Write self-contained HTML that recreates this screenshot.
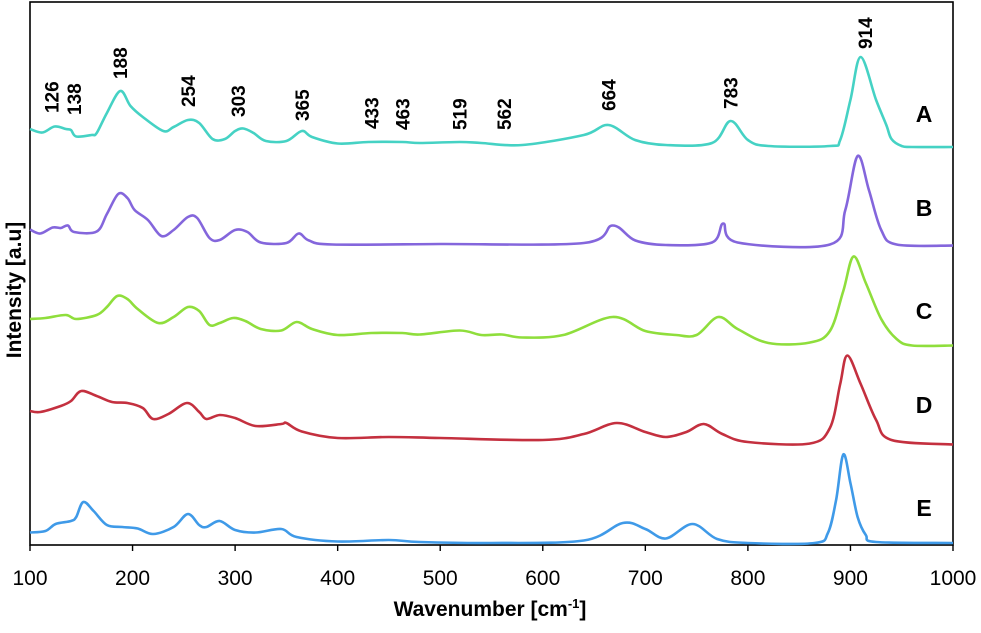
<!DOCTYPE html>
<html><head><meta charset="utf-8"><style>
html,body{margin:0;padding:0;background:#fff;}
svg{display:block;font-family:"Liberation Sans",sans-serif;}
</style></head><body>
<svg id="chart" width="981" height="633" viewBox="0 0 981 633"></svg>
<script>
const xTicks = [100,200,300,400,500,600,700,800,900,1000];
const seriesNames = ["A","B","C","D","E"];
const seriesColors = ["#45d2c4","#8466dc","#8fde3c","#c4303f","#3f9ae8"];
const peakLabels = [126,138,188,254,303,365,433,463,519,562,664,783,914];
const peakLabelHeights = [432,430,466,438,428,424,416,415,415,415,434,436,496];
const waveA = [100,112,124,135,140,145,160,165,175,188,198,210,230,240,254,265,278,290,300,308,318,330,350,365,375,400,430,463,480,519,540,580,640,664,690,720,765,783,800,820,880,890,900,910,925,935,940,950,960,1000];
const intA = [416,412.5,418.5,416,415,408.5,410,412,432,454,439,428,414,418,425,422,406,406,414,416.5,412,404,404,414,408,401.5,403,403,402,403,402,400,410,420,405,400,402,424,405,399,399,405,445,488,445,420,406,399,398,398];
const waveB = [100,110,122,130,137,143,165,175,186,195,202,215,228,240,254,263,275,285,300,312,325,350,362,372,395,500,640,668,690,720,765,776,790,880,895,907,918,930,945,1000];
const intB = [315.5,311.5,317.5,317,319.5,313,313.5,331,351,347,335,325,309,315,328,327,307,305,315,313,302.5,302,311.5,304.5,300.5,301,302,319.5,304.6,300,302.5,321.5,302.5,300.5,335,389,355,315,300.5,299.4];
const waveC = [100,115,135,145,165,175,185,195,205,225,240,254,265,275,285,298,310,325,345,360,375,400,433,463,480,519,540,560,580,620,668,700,730,750,771,790,820,860,880,893,903,915,930,945,960,1000];
const intC = [226,227,230,226,230,238,249,246,236,222,228,238,234,220,222,227,224,216,214.5,223,216,210,212,212,210.5,214.5,210,210.5,207.5,210,228,214,210,210,228,216,202,202.4,214,254,288.5,262,226,206,199.5,199.5];
const waveD = [100,110,130,140,150,165,180,195,210,220,235,253,265,272,285,300,320,345,350,365,400,450,500,600,640,672,700,720,740,757,775,800,860,880,890,897,910,925,940,1000];
const intD = [134,133,139,144,154,149,143,142,137,126,131,142,133,126,130,127,119,121,122,113.5,107,108,107,105,111,122,113,108,113,121,111,103,101.4,117,161,189.5,161,125,105,100.5];
const waveE = [100,115,125,140,145,152,162,175,190,205,220,240,254,265,272,285,300,320,345,360,400,450,480,550,640,678,700,720,746,770,800,865,878,886,893,900,907,915,925,1000];
const intE = [12.5,14,21,24,28,43,34,20,18,16.5,11,18,31,20,18,24,15,12.5,16,8,3.5,5,3,2,4.5,22,16,6.5,21,6,2,2,12,45,90.5,62,28,10,3,2];
const letterOffsets = [423,329,226,132,29];

const svg = document.getElementById('chart');
const NS = 'http://www.w3.org/2000/svg';
const L=30,R=953,T=2,B=545;
const xs = v => L + (v-100)/900*(R-L);
const ys = v => B - v;
function mk(tag, attrs, parent){const e=document.createElementNS(NS,tag);for(const k in attrs)e.setAttribute(k,attrs[k]);(parent||svg).appendChild(e);return e;}

const frame = mk('rect',{x:L,y:T,width:R-L,height:B-T,fill:'none',stroke:'#000','stroke-width':1.6});



xTicks.forEach(t=>{
  const tk=mk('line',{x1:xs(t),x2:xs(t),y1:B,y2:B+6,stroke:'#000','stroke-width':1.4});
  
  
  const tx=mk('text',{x:xs(t),y:585,'font-size':21,'text-anchor':'middle',fill:'#000'});
  tx.textContent=t;
  
  
});

function pathFrom(wx, iy){
  const p = wx.map((w,i)=>[xs(w),ys(iy[i])]);
  let d='M'+p[0][0].toFixed(1)+','+p[0][1].toFixed(1);
  for(let i=0;i<p.length-1;i++){
    const p0=p[Math.max(0,i-1)],p1=p[i],p2=p[i+1],p3=p[Math.min(p.length-1,i+2)];
    const c1x=p1[0]+(p2[0]-p0[0])/6,c1y=p1[1]+(p2[1]-p0[1])/6;
    const c2x=p2[0]-(p3[0]-p1[0])/6,c2y=p2[1]-(p3[1]-p1[1])/6;
    d+='C'+c1x.toFixed(1)+','+c1y.toFixed(1)+' '+c2x.toFixed(1)+','+c2y.toFixed(1)+' '+p2[0].toFixed(1)+','+p2[1].toFixed(1);
  }
  return d;
}
const waves=[waveA,waveB,waveC,waveD,waveE];
const ints=[intA,intB,intC,intD,intE];
seriesNames.forEach((n,i)=>{
  const pth=mk('path',{d:pathFrom(waves[i],ints[i]),fill:'none',stroke:seriesColors[i],'stroke-width':2.6,'stroke-linejoin':'round'});
  
  
  const lt=mk('text',{x:924,y:ys(letterOffsets[i]),'font-size':23,'font-weight':'bold','text-anchor':'middle',fill:'#000'});
  lt.textContent=n;
  
  
});

peakLabels.forEach((p,i)=>{
  let dx = 7;
  if (p===126) dx = 2;
  if (p===138) dx = 12;
  const x=xs(p)+dx, y=ys(peakLabelHeights[i]);
  const t=mk('text',{x:x,y:y,'font-size':19,'font-weight':'bold',fill:'#000',transform:'rotate(-90 '+x+' '+y+')'});
  t.textContent=p;
  
  
});

const yt=mk('text',{x:21,y:290,'font-size':21,'font-weight':'bold','text-anchor':'middle',fill:'#000',transform:'rotate(-90 21 290)'});
yt.textContent='Intensity [a.u]';


const xt=mk('text',{x:490,y:616,'font-size':21,'font-weight':'bold','text-anchor':'middle',fill:'#000'});
xt.innerHTML='Wavenumber [cm<tspan dy="-8" font-size="13">-1</tspan><tspan dy="8">]</tspan>';


</script>
</body></html>
